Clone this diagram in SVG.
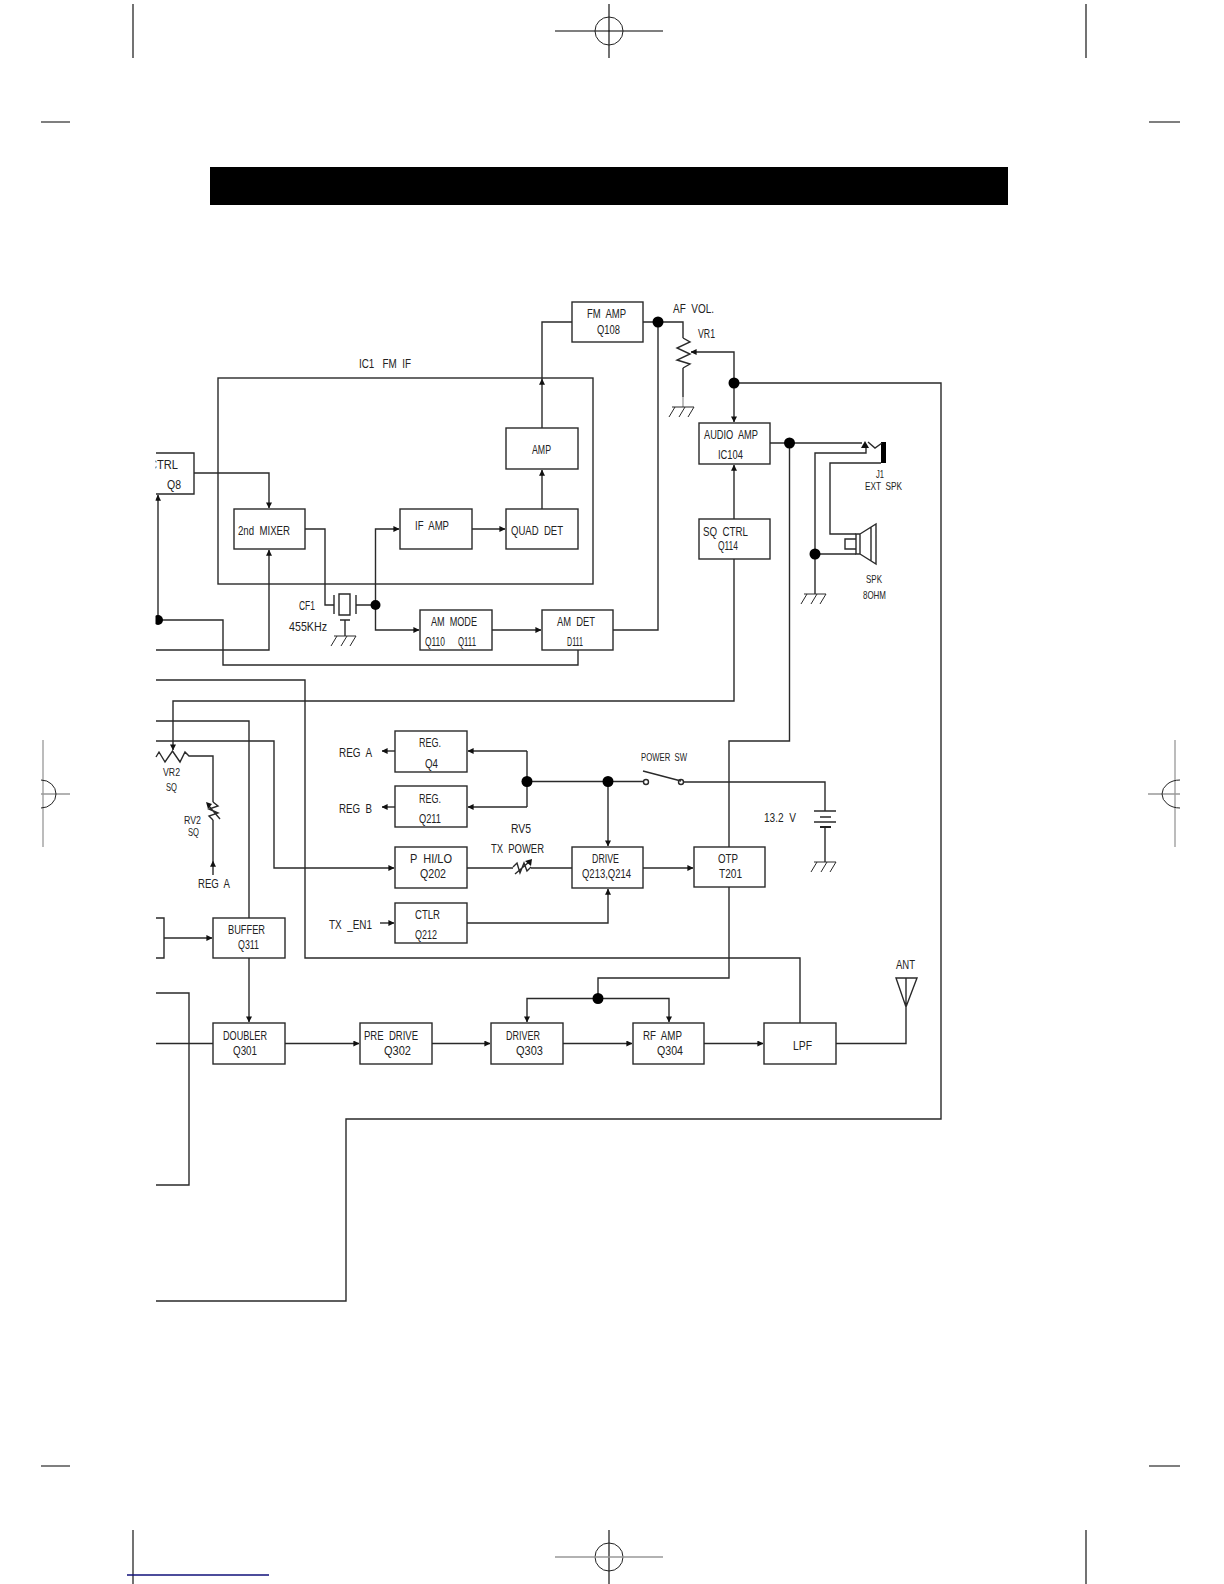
<svg xmlns="http://www.w3.org/2000/svg" width="1224" height="1584" viewBox="0 0 1224 1584">
<style>
.b{fill:#fff;stroke:#2a2a2a;stroke-width:1.4}
.l{fill:none;stroke:#2a2a2a;stroke-width:1.4}
.g{fill:none;stroke:#2a2a2a;stroke-width:1}
.k{fill:none;stroke:#000;stroke-width:1.1}
.m{fill:none;stroke:#999;stroke-width:1.3}
.c{fill:none;stroke:#222;stroke-width:1}
.t{font-family:"Liberation Sans",Arial,sans-serif;font-size:13.5px;fill:#222;white-space:pre}
.s{font-size:11px}
.d{fill:#000}
</style>
<defs>
<marker id="a" viewBox="0 0 8 8" refX="7.500" refY="4" markerWidth="6" markerHeight="6" markerUnits="userSpaceOnUse" orient="auto"><path d="M0 0L8 4L0 8z" fill="#111"/></marker>
<g id="gnd"><path class="g" d="M-11 0H11M-8 0L-14 10M2 0L-4 10M11 0L5 10"/></g>
</defs>
<rect width="1224" height="1584" fill="#fff"/>
<g id="crop-marks">
<path class="k" d="M133 4V58M1086 4V58M41 122H70M1149 122H1180M41 1466H70M1149 1466H1180M133 1530V1584M1086 1530V1584"/>
<path class="k" d="M609 4V58M555 31H663M609 1530V1584"/>
<circle class="c" cx="609" cy="31" r="14"/><circle class="c" cx="609" cy="1557" r="14"/>
<path class="m" d="M555 1557H663"/>
<path class="m" d="M43 740V847M41 794H70M1175 740V847M1148 794H1180"/>
<path class="c" d="M41 780A15 14 0 0 1 41 808M1180 780A18 14 0 0 0 1180 808"/>
<path d="M127 1575H269" stroke="#10107a" stroke-width="1.4" fill="none"/>
</g>
<rect id="title-bar" x="210" y="167" width="798" height="38" fill="#000"/>
<g id="connectors">
<rect class="l" x="218" y="378" width="375" height="206"/>
<path class="l" d="M194 473H269V508" marker-end="url(#a)"/>
<path class="l" d="M305 529H325V605H334"/>
<path class="l" d="M356 605H375.500M375.500 605V529H399" marker-end="url(#a)"/>
<path class="l" d="M375.500 605V630H419" marker-end="url(#a)"/>
<path class="l" d="M492 630H541" marker-end="url(#a)"/>
<path class="l" d="M472 529H505" marker-end="url(#a)"/>
<path class="l" d="M542 509V470" marker-end="url(#a)"/>
<path class="l" d="M542 428V379" marker-end="url(#a)"/>
<path class="l" d="M542 379V322H572"/>
<path class="l" d="M613 630H658V322"/>
<path class="l" d="M643 322H683V338M683 368V397"/>
<path class="m" d="M683 397V407"/>
<path class="l" d="M683 338L690 342L677 348L690 354L677 360L690 364L683 368"/>
<path class="l" d="M734 383V352H691" marker-end="url(#a)"/>
<path class="l" d="M734 383V422" marker-end="url(#a)"/>
<path class="l" d="M734 383H941V1119H346V1301H156"/>
<path class="l" d="M734 519V465" marker-end="url(#a)"/>
<path class="l" d="M734 559V701H173V750" marker-end="url(#a)"/>
<path class="l" d="M770 443H862"/>
<path class="l" d="M815 594V453H866V445"/>
<path class="l" d="M881 463H830V534H856"/>
<path class="l" d="M815 554H856"/>
<path class="l" d="M789.500 443V741H729V847M729 887V978H598V998.500"/>
<path class="l" d="M598 998.500H527V1022" marker-end="url(#a)"/>
<path class="l" d="M598 998.500H669V1022" marker-end="url(#a)"/>
<path class="l" d="M156 680H305V958H800V1023"/>
<path class="l" d="M156 721H249V918"/>
<path class="l" d="M249 958V1022" marker-end="url(#a)"/>
<path class="l" d="M164 938H212" marker-end="url(#a)"/>
<path class="l" d="M156 741H274V868H394" marker-end="url(#a)"/>
<path class="l" d="M156 993H189V1185H156"/>
<path class="l" d="M156 1043.500H213"/>
<path class="l" d="M285 1043.500H359" marker-end="url(#a)"/>
<path class="l" d="M432 1043.500H490" marker-end="url(#a)"/>
<path class="l" d="M563 1043.500H632" marker-end="url(#a)"/>
<path class="l" d="M704 1043.500H763" marker-end="url(#a)"/>
<path class="l" d="M836 1043.500H906V978M896 978H917L906 1007Z"/>
<path class="l" d="M158 620V495" marker-end="url(#a)"/>
<path class="l" d="M158 620H223V665H578V650"/>
<path class="l" d="M156 650H269V550" marker-end="url(#a)"/>
<path class="l" d="M527 781.500H644M527 751V807"/>
<path class="l" d="M527 751H468" marker-end="url(#a)"/>
<path class="l" d="M527 807H468" marker-end="url(#a)"/>
<path class="l" d="M608 781.500V846" marker-end="url(#a)"/>
<path class="l" d="M684 782H825V811M825 827V862"/>
<path class="l" d="M395 751H382" marker-end="url(#a)"/>
<path class="l" d="M395 807H382" marker-end="url(#a)"/>
<path class="l" d="M380 923H394" marker-end="url(#a)"/>
<path class="l" d="M467 923H608V889" marker-end="url(#a)"/>
<path class="l" d="M467 868H513M531 868H572"/>
<path class="l" d="M643 868H693" marker-end="url(#a)"/>
<path class="l" d="M156 757L159 752L165 762L172.500 751L180 762L185 752L189 756H213V802M213 820V861"/>
<path class="l" d="M213 875V861" marker-end="url(#a)"/>
</g>
<g id="dots">
<circle class="d" cx="375.500" cy="605" r="5"/><circle class="d" cx="658" cy="322" r="5.500"/><circle class="d" cx="734" cy="383" r="5.500"/><circle class="d" cx="789.500" cy="443" r="5.500"/><circle class="d" cx="815" cy="554" r="5.500"/><circle class="d" cx="598" cy="998.500" r="5.500"/><circle class="d" cx="527" cy="781.500" r="5.500"/><circle class="d" cx="608" cy="781.500" r="5.500"/><circle class="d" cx="158" cy="620" r="5"/>
</g>
<g id="ground-symbols">
<use href="#gnd" x="683" y="407"/><use href="#gnd" x="345" y="636"/><use href="#gnd" x="815" y="594"/><use href="#gnd" x="825" y="862"/>
</g>
<g id="CF1"><path class="l" d="M334 595V614M356 595V614M339 594H350V615H339ZM345 620V636M340 620H350"/>
<text class="t" x="299" y="610" textLength="16" lengthAdjust="spacingAndGlyphs">CF1</text><text class="t" x="289" y="631" textLength="38" lengthAdjust="spacingAndGlyphs">455KHz</text></g>
<g id="switch"><circle class="b" cx="646" cy="782" r="2.500"/><circle class="b" cx="681" cy="782" r="2.500"/><path class="l" d="M643 771L681 781"/><text class="t s" x="641" y="761" textLength="46" lengthAdjust="spacingAndGlyphs">POWER  SW</text></g>
<g id="battery"><path class="l" d="M814 811H836M820 817H831M814 822H836"/><path d="M820 827H831" stroke="#222" stroke-width="2" fill="none"/><text class="t" x="764" y="822" textLength="32" lengthAdjust="spacingAndGlyphs">13.2  V</text></g>
<g id="jack"><rect x="881" y="442" width="5" height="21" fill="#000"/><path class="l" d="M868 442L875 448L882 443"/><path d="M865 441L869 448H861Z" fill="#111"/><text class="t s" x="876" y="478" textLength="8" lengthAdjust="spacingAndGlyphs">J1</text><text class="t s" x="865" y="490" textLength="37" lengthAdjust="spacingAndGlyphs">EXT  SPK</text></g>
<g id="speaker"><path class="l" d="M845 539H856V549H845ZM856 534H860V554H856ZM860 534L876 524V564L860 554M871 527V561"/><text class="t s" x="866" y="583" textLength="16" lengthAdjust="spacingAndGlyphs">SPK</text><text class="t s" x="863" y="599" textLength="23" lengthAdjust="spacingAndGlyphs">8OHM</text></g>
<g id="antenna"><text class="t" x="896" y="969" textLength="19" lengthAdjust="spacingAndGlyphs">ANT</text></g>
<g id="vr1"><text class="t" x="673" y="313" textLength="41" lengthAdjust="spacingAndGlyphs">AF  VOL.</text><text class="t" x="698" y="338" textLength="17" lengthAdjust="spacingAndGlyphs">VR1</text></g>
<g id="vr2"><text class="t s" x="163" y="776" textLength="17" lengthAdjust="spacingAndGlyphs">VR2</text><text class="t s" x="166" y="791" textLength="11" lengthAdjust="spacingAndGlyphs">SQ</text>
<path class="l" d="M213 802L218 806L209 809L218 813L209 816L213 820M208 805L220 819"/><path d="M206 802L212 804L208 809Z" fill="#111"/>
<text class="t s" x="184" y="824" textLength="17" lengthAdjust="spacingAndGlyphs">RV2</text><text class="t s" x="188" y="836" textLength="11" lengthAdjust="spacingAndGlyphs">SQ</text><text class="t" x="198" y="888" textLength="32" lengthAdjust="spacingAndGlyphs">REG  A</text></g>
<g id="rv5"><path class="l" d="M513 867L517 863L520 873L524 863L527 871L531 867M515 874L529 862"/><path d="M532 859L531 866L525 861Z" fill="#111"/><text class="t" x="511" y="833" textLength="20" lengthAdjust="spacingAndGlyphs">RV5</text><text class="t" x="491" y="853" textLength="53" lengthAdjust="spacingAndGlyphs">TX  POWER</text></g>
<g id="ic1"><text class="t" x="359" y="368" textLength="52" lengthAdjust="spacingAndGlyphs">IC1   FM  IF</text></g>
<g id="labels"><text class="t" x="339" y="757" textLength="33" lengthAdjust="spacingAndGlyphs">REG  A</text><text class="t" x="339" y="813" textLength="33" lengthAdjust="spacingAndGlyphs">REG  B</text><text class="t" x="329" y="929" textLength="43" lengthAdjust="spacingAndGlyphs">TX  _EN1</text></g>
<g id="CTRL"><path class="b" d="M156 453H194V494H156"/><text class="t" x="149" y="469" textLength="29" lengthAdjust="spacingAndGlyphs">CTRL</text><text class="t" x="167" y="489" textLength="14" lengthAdjust="spacingAndGlyphs">Q8</text></g>
<g id="left-box"><path class="b" d="M156 918H164V958H156"/></g>
<rect id="left-mask" x="130" y="440" width="25.500" height="200" fill="#fff"/>
<g id="FM-AMP"><rect class="b" x="572" y="302" width="71" height="40"/><text class="t" x="587" y="318" textLength="39" lengthAdjust="spacingAndGlyphs">FM  AMP</text><text class="t" x="597" y="334" textLength="23" lengthAdjust="spacingAndGlyphs">Q108</text></g>
<g id="AMP"><rect class="b" x="506" y="428" width="72" height="41"/><text class="t" x="532" y="454" textLength="19" lengthAdjust="spacingAndGlyphs">AMP</text></g>
<g id="MIXER"><rect class="b" x="234" y="509" width="71" height="40"/><text class="t" x="238" y="535" textLength="52" lengthAdjust="spacingAndGlyphs">2nd  MIXER</text></g>
<g id="IF-AMP"><rect class="b" x="400" y="509" width="72" height="40"/><text class="t" x="415" y="530" textLength="34" lengthAdjust="spacingAndGlyphs">IF  AMP</text></g>
<g id="QUAD-DET"><rect class="b" x="506" y="509" width="72" height="40"/><text class="t" x="511" y="535" textLength="52" lengthAdjust="spacingAndGlyphs">QUAD  DET</text></g>
<g id="AM-MODE"><rect class="b" x="420" y="610" width="72" height="40"/><text class="t" x="431" y="626" textLength="46" lengthAdjust="spacingAndGlyphs">AM  MODE</text><text class="t" x="425" y="646" textLength="20" lengthAdjust="spacingAndGlyphs">Q110</text><text class="t" x="458" y="646" textLength="18" lengthAdjust="spacingAndGlyphs">Q111</text></g>
<g id="AM-DET"><rect class="b" x="542" y="610" width="71" height="40"/><text class="t" x="557" y="626" textLength="38" lengthAdjust="spacingAndGlyphs">AM  DET</text><text class="t" x="567" y="646" textLength="16" lengthAdjust="spacingAndGlyphs">D111</text></g>
<g id="AUDIO-AMP"><rect class="b" x="699" y="423" width="71" height="41"/><text class="t" x="704" y="439" textLength="54" lengthAdjust="spacingAndGlyphs">AUDIO  AMP</text><text class="t" x="718" y="459" textLength="25" lengthAdjust="spacingAndGlyphs">IC104</text></g>
<g id="SQ-CTRL"><rect class="b" x="699" y="519" width="71" height="40"/><text class="t" x="703" y="536" textLength="45" lengthAdjust="spacingAndGlyphs">SQ  CTRL</text><text class="t" x="718" y="550" textLength="20" lengthAdjust="spacingAndGlyphs">Q114</text></g>
<g id="REG-Q4"><rect class="b" x="395" y="731" width="72" height="41"/><text class="t" x="419" y="747" textLength="22" lengthAdjust="spacingAndGlyphs">REG.</text><text class="t" x="425" y="768" textLength="13" lengthAdjust="spacingAndGlyphs">Q4</text></g>
<g id="REG-Q211"><rect class="b" x="395" y="786" width="72" height="41"/><text class="t" x="419" y="803" textLength="22" lengthAdjust="spacingAndGlyphs">REG.</text><text class="t" x="419" y="823" textLength="22" lengthAdjust="spacingAndGlyphs">Q211</text></g>
<g id="P-HI-LO"><rect class="b" x="395" y="847" width="72" height="41"/><text class="t" x="410" y="863" textLength="42" lengthAdjust="spacingAndGlyphs">P  HI/LO</text><text class="t" x="420" y="878" textLength="26" lengthAdjust="spacingAndGlyphs">Q202</text></g>
<g id="CTLR"><rect class="b" x="395" y="903" width="72" height="40"/><text class="t" x="415" y="919" textLength="25" lengthAdjust="spacingAndGlyphs">CTLR</text><text class="t" x="415" y="939" textLength="22" lengthAdjust="spacingAndGlyphs">Q212</text></g>
<g id="DRIVE"><rect class="b" x="572" y="847" width="71" height="41"/><text class="t" x="592" y="863" textLength="27" lengthAdjust="spacingAndGlyphs">DRIVE</text><text class="t" x="582" y="878" textLength="49" lengthAdjust="spacingAndGlyphs">Q213,Q214</text></g>
<g id="OTP"><rect class="b" x="694" y="847" width="71" height="40"/><text class="t" x="718" y="863" textLength="20" lengthAdjust="spacingAndGlyphs">OTP</text><text class="t" x="719" y="878" textLength="23" lengthAdjust="spacingAndGlyphs">T201</text></g>
<g id="BUFFER"><rect class="b" x="213" y="918" width="72" height="40"/><text class="t" x="228" y="934" textLength="37" lengthAdjust="spacingAndGlyphs">BUFFER</text><text class="t" x="238" y="949" textLength="21" lengthAdjust="spacingAndGlyphs">Q311</text></g>
<g id="DOUBLER"><rect class="b" x="213" y="1023" width="72" height="41"/><text class="t" x="223" y="1040" textLength="44" lengthAdjust="spacingAndGlyphs">DOUBLER</text><text class="t" x="233" y="1055" textLength="24" lengthAdjust="spacingAndGlyphs">Q301</text></g>
<g id="PRE-DRIVE"><rect class="b" x="360" y="1023" width="72" height="41"/><text class="t" x="364" y="1040" textLength="54" lengthAdjust="spacingAndGlyphs">PRE  DRIVE</text><text class="t" x="384" y="1055" textLength="27" lengthAdjust="spacingAndGlyphs">Q302</text></g>
<g id="DRIVER"><rect class="b" x="491" y="1023" width="72" height="41"/><text class="t" x="506" y="1040" textLength="34" lengthAdjust="spacingAndGlyphs">DRIVER</text><text class="t" x="516" y="1055" textLength="27" lengthAdjust="spacingAndGlyphs">Q303</text></g>
<g id="RF-AMP"><rect class="b" x="633" y="1023" width="71" height="41"/><text class="t" x="643" y="1040" textLength="39" lengthAdjust="spacingAndGlyphs">RF  AMP</text><text class="t" x="657" y="1055" textLength="26" lengthAdjust="spacingAndGlyphs">Q304</text></g>
<g id="LPF"><rect class="b" x="764" y="1023" width="72" height="41"/><text class="t" x="793" y="1050" textLength="19" lengthAdjust="spacingAndGlyphs">LPF</text></g>
</svg>
